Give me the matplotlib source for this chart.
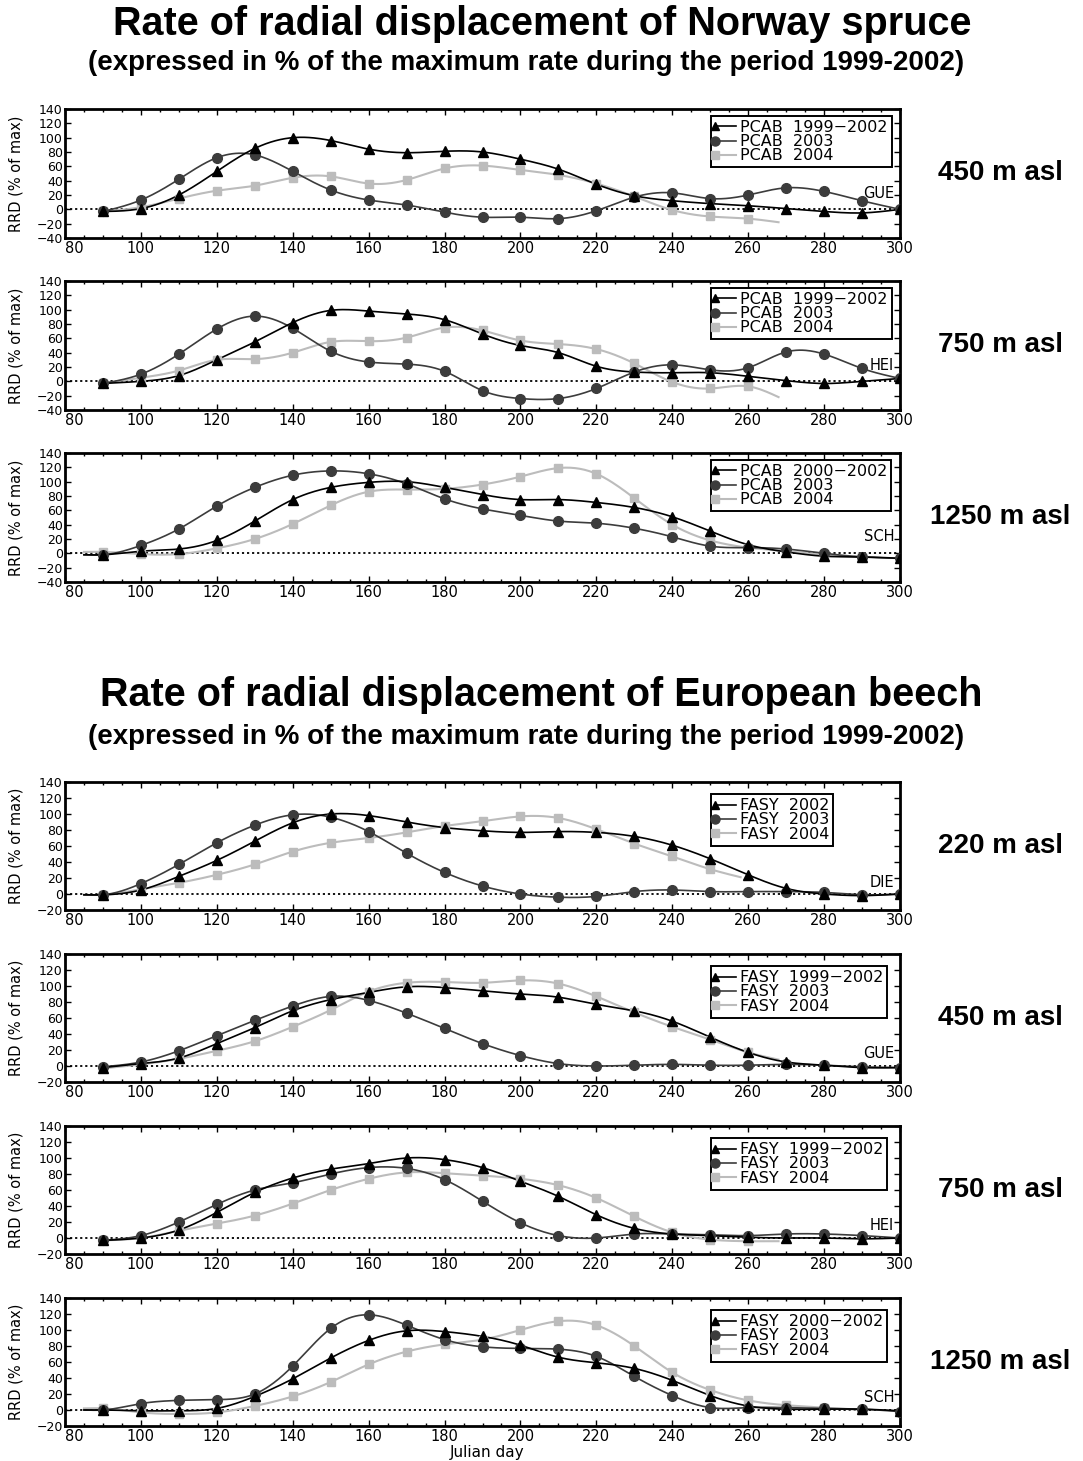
import numpy as np
import matplotlib
matplotlib.use('Agg')
import matplotlib.pyplot as plt
from matplotlib.lines import Line2D
from matplotlib.ticker import MultipleLocator

# julian days of the measurements (one point every 10 days)
DAYS = [90, 100, 110, 120, 130, 140, 150, 160, 170, 180, 190,
        200, 210, 220, 230, 240, 250, 260, 270, 280, 290, 300]

# ---- Norway spruce (PCAB) ----
# 450 m asl, GUE
gue_pcab_ref = [-3, 1, 20, 53, 85, 100, 96, 84, 79, 81, 80, 70, 56, 35, 19, 12, 8, 5, 1, -3, -5, 0]
gue_pcab_03 = [-3, 13, 42, 72, 76, 53, 27, 13, 6, -4, -11, -11, -13, -2, 17, 23, 15, 20, 30, 25, 12, 0]
gue_pcab_04 = [-3, 3, 15, 26, 33, 44, 46, 36, 41, 57, 61, 55, 48, 36, 18, -1, -10, -13]
gue_pcab_04_end = (268, -18)
# 750 m asl, HEI
hei_pcab_ref = [-3, 0, 8, 30, 55, 82, 99, 98, 94, 86, 66, 50, 40, 21, 13, 12, 12, 7, 1, -3, 0, 4]
hei_pcab_03 = [-3, 10, 38, 73, 91, 74, 42, 27, 24, 14, -13, -24, -24, -10, 13, 23, 16, 19, 41, 38, 18, 4]
hei_pcab_04 = [-3, 5, 15, 30, 31, 40, 55, 56, 61, 75, 71, 57, 52, 45, 25, -1, -10, -7]
hei_pcab_04_end = (268, -22)
# 1250 m asl, SCH
sch_pcab_ref = [-2, 3, 6, 18, 45, 75, 92, 99, 100, 92, 82, 75, 75, 71, 64, 51, 31, 12, 2, -4, -5, -7]
sch_pcab_03 = [-2, 11, 34, 66, 92, 109, 115, 111, 97, 76, 62, 53, 45, 42, 35, 23, 10, 8, 6, 0, -5, -7]
sch_pcab_04 = [2, -1, -1, 7, 20, 41, 67, 86, 89, 90, 96, 107, 119, 111, 77, 40, 18, 8, 3, -2, -5]

# ---- European beech (FASY) ----
# 220 m asl, DIE
die_fasy_ref = [-1, 5, 22, 42, 66, 89, 100, 98, 90, 83, 79, 77, 78, 77, 72, 61, 44, 24, 7, 0, -2, 0]
die_fasy_03 = [-1, 13, 37, 64, 86, 99, 96, 78, 51, 27, 10, 0, -4, -3, 3, 5, 3, 3, 3, 2, -1, 0]
die_fasy_04 = [-1, 6, 14, 24, 37, 53, 64, 70, 77, 85, 91, 97, 95, 81, 63, 47, 31]
die_fasy_04_end = (258, 21)
# 450 m asl, GUE
gue_fasy_ref = [-2, 3, 10, 28, 48, 69, 83, 92, 99, 98, 94, 90, 86, 77, 69, 56, 36, 17, 5, 1, -2, -2]
gue_fasy_03 = [-1, 5, 19, 38, 57, 75, 87, 82, 66, 47, 28, 13, 3, 0, 1, 2, 1, 1, 2, 1, -1, -2]
gue_fasy_04 = [-3, 2, 9, 19, 31, 49, 70, 93, 104, 105, 104, 107, 103, 87, 67, 49, 33, 17]
gue_fasy_04_end = (268, 8)
# 750 m asl, HEI
hei_fasy_ref = [-3, 0, 10, 32, 57, 75, 86, 93, 100, 98, 88, 71, 52, 29, 12, 5, 3, 1, 0, 0, -1, 0]
hei_fasy_03 = [-3, 3, 20, 42, 60, 69, 80, 88, 87, 73, 46, 19, 3, 0, 5, 5, 4, 3, 5, 5, 3, 0]
hei_fasy_04 = [-3, 0, 9, 18, 28, 43, 60, 74, 82, 81, 78, 74, 66, 50, 27, 7, -2, -4]
hei_fasy_04_end = (268, -4)
# 1250 m asl, SCH
sch_fasy_ref = [0, -1, -1, 2, 17, 39, 65, 87, 99, 98, 92, 81, 66, 59, 52, 37, 18, 5, 1, 1, 1, -1]
sch_fasy_03 = [0, 8, 12, 13, 20, 55, 102, 119, 106, 88, 79, 77, 76, 67, 42, 18, 3, 3, 3, 2, 1, -2]
sch_fasy_04 = [2, -3, -5, -3, 5, 17, 35, 57, 73, 82, 88, 100, 111, 106, 80, 47, 25, 12, 6, 3, 0]

LEAD_DAY = 85


def spline(x, y, n=500):
    # natural cubic spline, like the smooth curves of the original plot
    x = np.asarray(x, float)
    y = np.asarray(y, float)
    m = len(x)
    h = np.diff(x)
    A = np.zeros((m, m))
    r = np.zeros(m)
    A[0, 0] = A[-1, -1] = 1
    for i in range(1, m - 1):
        A[i, i - 1] = h[i - 1]
        A[i, i] = 2 * (h[i - 1] + h[i])
        A[i, i + 1] = h[i]
        r[i] = 3 * ((y[i + 1] - y[i]) / h[i] - (y[i] - y[i - 1]) / h[i - 1])
    c = np.linalg.solve(A, r)
    b = (y[1:] - y[:-1]) / h - h * (2 * c[:-1] + c[1:]) / 3
    d = (c[1:] - c[:-1]) / (3 * h)
    xs = np.linspace(x[0], x[-1], n)
    k = np.clip(np.searchsorted(x, xs) - 1, 0, m - 2)
    dx = xs - x[k]
    return xs, y[k] + b[k] * dx + c[k] * dx ** 2 + d[k] * dx ** 3


STYLES = {
    'ref': dict(color='black', marker='^', ms=6.5, lw=1.2),
    '03': dict(color='#3c3c3c', marker='o', ms=7, lw=1.2),
    '04': dict(color='#bcbcbc', marker='s', ms=6, lw=1.5),
}

W, H = 1083, 1461
fig = plt.figure(figsize=(W / 100, H / 100), dpi=100)

LEFT, RIGHT = 65, 900

panels = [
    dict(top=109, bot=238, data=(gue_pcab_ref, gue_pcab_03, gue_pcab_04), end=gue_pcab_04_end,
         labels=('PCAB  1999\u22122002', 'PCAB  2003', 'PCAB  2004'), site='GUE', site_y=22,
         asl='450 m asl', lead=False, ylim=(-40, 140)),
    dict(top=281, bot=410, data=(hei_pcab_ref, hei_pcab_03, hei_pcab_04), end=hei_pcab_04_end,
         labels=('PCAB  1999\u22122002', 'PCAB  2003', 'PCAB  2004'), site='HEI', site_y=22,
         asl='750 m asl', lead=False, ylim=(-40, 140)),
    dict(top=453, bot=582, data=(sch_pcab_ref, sch_pcab_03, sch_pcab_04), end=None,
         labels=('PCAB  2000\u22122002', 'PCAB  2003', 'PCAB  2004'), site='SCH', site_y=24,
         asl='1250 m asl', lead=True, ylim=(-40, 140)),
    dict(top=782, bot=910, data=(die_fasy_ref, die_fasy_03, die_fasy_04), end=die_fasy_04_end,
         labels=('FASY  2002', 'FASY  2003', 'FASY  2004'), site='DIE', site_y=15,
         asl='220 m asl', lead=True, ylim=(-20, 140)),
    dict(top=954, bot=1082, data=(gue_fasy_ref, gue_fasy_03, gue_fasy_04), end=gue_fasy_04_end,
         labels=('FASY  1999\u22122002', 'FASY  2003', 'FASY  2004'), site='GUE', site_y=16,
         asl='450 m asl', lead=False, ylim=(-20, 140)),
    dict(top=1126, bot=1254, data=(hei_fasy_ref, hei_fasy_03, hei_fasy_04), end=hei_fasy_04_end,
         labels=('FASY  1999\u22122002', 'FASY  2003', 'FASY  2004'), site='HEI', site_y=16,
         asl='750 m asl', lead=False, ylim=(-20, 140)),
    dict(top=1298, bot=1426, data=(sch_fasy_ref, sch_fasy_03, sch_fasy_04), end=None,
         labels=('FASY  2000\u22122002', 'FASY  2003', 'FASY  2004'), site='SCH', site_y=15,
         asl='1250 m asl', lead=True, ylim=(-20, 140)),
]

for p in panels:
    ax = fig.add_axes([LEFT / W, 1 - p['bot'] / H, (RIGHT - LEFT) / W, (p['bot'] - p['top']) / H])
    ax.axhline(0, color='black', lw=1.3, ls=(0, (1.2, 1.6)), zorder=1)
    keys = ('ref', '03', '04')
    # draw 2004 first so the reference curve sits on top
    for key, vals in reversed(list(zip(keys, p['data']))):
        st = STYLES[key]
        xd = DAYS[:len(vals)]
        xl, yl = list(xd), list(vals)
        if p['lead']:
            xl = [LEAD_DAY] + xl
            yl = [vals[0]] + yl
        if key == '04' and p['end'] is not None:
            xl.append(p['end'][0])
            yl.append(p['end'][1])
        xs, ys = spline(xl, yl)
        ax.plot(xs, ys, color=st['color'], lw=st['lw'], zorder=2)
        ax.plot(xd, vals, ls='none', marker=st['marker'], ms=st['ms'],
                color=st['color'], mec=st['color'], zorder=3)
    handles = []
    for key, lab in zip(keys, p['labels']):
        st = STYLES[key]
        handles.append(Line2D([], [], color=st['color'], lw=st['lw'], marker=st['marker'],
                              ms=st['ms'] - 0.5, label=lab))
    ytop = 0.946 if p['ylim'][0] == -40 else 0.905
    leg = ax.legend(handles=handles, loc='upper left', bbox_to_anchor=(0.774, ytop),
                    borderaxespad=0, frameon=True, fancybox=False, edgecolor='black',
                    framealpha=1, fontsize=11.5, handlelength=1.3, handletextpad=0.25,
                    labelspacing=-0.05, borderpad=0.25, numpoints=1)
    leg.get_frame().set_linewidth(1.4)
    # marker at the left end of the legend line, as in the original
    for ln in leg.get_lines():
        ln.set_markevery([0])
    ax.text(298.5, p['site_y'], p['site'], ha='right', va='center', fontsize=10.5)

    ax.set_xlim(80, 300)
    ax.set_ylim(*p['ylim'])
    ax.set_xticks(range(80, 301, 20))
    ax.xaxis.set_minor_locator(MultipleLocator(5))
    ax.set_yticks(range(p['ylim'][0], 141, 20))
    ax.tick_params(direction='in', top=True, right=True, length=4, width=1)
    ax.tick_params(which='minor', direction='in', top=True, length=2.5, width=1)
    ax.tick_params(axis='x', labelsize=10.5, pad=2)
    ax.tick_params(axis='y', labelsize=9, pad=1.5)
    ax.get_xticklabels()[0].set_horizontalalignment('left')
    for sp in ax.spines.values():
        sp.set_linewidth(2)
    ax.set_ylabel('RRD (% of max)', fontsize=10.5, labelpad=0)
    ax.yaxis.set_label_coords(-0.05, 0.5)

    fig.text(1000 / W, 1 - (p['top'] + p['bot']) / 2 / H, p['asl'], ha='center', va='center',
             fontsize=20, fontweight='bold', family='Liberation Sans')

fig.text(487 / W, 1 - 1452 / H, 'Julian day', ha='center', va='center', fontsize=11)

fig.text(542 / W, 1 - 24 / H, 'Rate of radial displacement of Norway spruce', ha='center', va='center',
         fontsize=28.5, fontweight='bold', family='Liberation Sans')
fig.text(526 / W, 1 - 63 / H, '(expressed in % of the maximum rate during the period 1999-2002)',
         ha='center', va='center', fontsize=20, fontweight='bold', family='Liberation Sans')
fig.text(541 / W, 1 - 695 / H, 'Rate of radial displacement of European beech', ha='center', va='center',
         fontsize=28.5, fontweight='bold', family='Liberation Sans')
fig.text(526 / W, 1 - 737 / H, '(expressed in % of the maximum rate during the period 1999-2002)',
         ha='center', va='center', fontsize=20, fontweight='bold', family='Liberation Sans')

fig.savefig('out.png', dpi=100)
